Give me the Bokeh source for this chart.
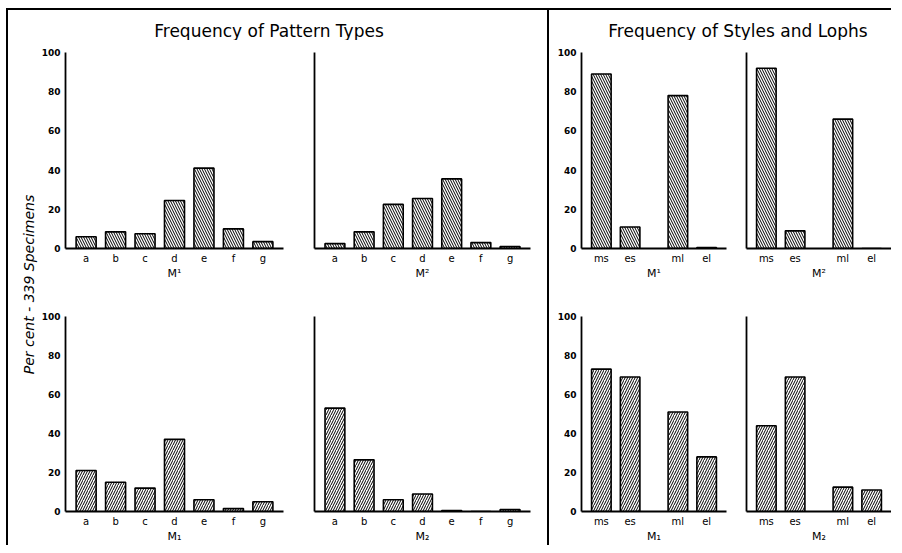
from bokeh.plotting import figure
from bokeh.layouts import row, column, Spacer
from bokeh.models import FactorRange, Range1d, FixedTicker, ColumnDataSource
from bokeh.embed import file_html
from bokeh.resources import INLINE

# ---------------- data ----------------
pattern_types = ["a", "b", "c", "d", "e", "f", "g"]
pattern_upper_M1 = [6, 8.5, 7.5, 24.5, 41, 10, 3.5]      # M¹
pattern_upper_M2 = [2.5, 8.5, 22.5, 25.5, 35.5, 3, 1]     # M²
pattern_lower_M1 = [21, 15, 12, 37, 6, 1.5, 5]            # M₁
pattern_lower_M2 = [53, 26.5, 6, 9, 0.5, 0, 1]            # M₂

style_groups = ["styles", "styles", "lophs", "lophs"]
style_types = ["ms", "es", "ml", "el"]
style_upper_M1 = [89, 11, 78, 0.5]
style_upper_M2 = [92, 9, 66, 0]
style_lower_M1 = [73, 69, 51, 28]
style_lower_M2 = [44, 69, 12.5, 11]

y_ticks = [0, 20, 40, 60, 80, 100]

title_left = "Frequency of Pattern Types"
title_right = "Frequency of Styles and Lophs"
y_title = "Per cent - 339 Specimens"

FONT = "DejaVu Sans"


def panel(factors, values, xlabel, frame_w, frame_h, mbl, mbr, mbt, mbb,
          show_labels, hatch, pad, nested=False):
    xr = FactorRange(factors=factors, range_padding=pad, range_padding_units="percent")
    if nested:
        xr.group_padding = 0.66
    p = figure(x_range=xr, y_range=Range1d(0, 100),
               frame_width=frame_w, frame_height=frame_h,
               min_border_left=mbl, min_border_right=mbr,
               min_border_top=mbt, min_border_bottom=mbb,
               output_backend="svg", toolbar_location=None)
    src = ColumnDataSource(dict(x=factors, top=values))
    p.vbar(x="x", top="top", width=0.68, source=src,
           fill_color="white", line_color="black", line_width=1.6,
           hatch_pattern=hatch, hatch_color="black", hatch_scale=5, hatch_weight=1.0)
    p.grid.visible = False
    p.outline_line_color = None
    for ax in (p.xaxis[0], p.yaxis[0]):
        ax.axis_line_width = 1.8
        ax.major_tick_line_color = None
        ax.minor_tick_line_color = None
        ax.major_tick_out = 0
        ax.major_tick_in = 0
    if show_labels:
        p.yaxis.ticker = FixedTicker(ticks=y_ticks)
        p.yaxis.major_label_standoff = 5
        p.yaxis.major_label_text_font = FONT
        p.yaxis.major_label_text_font_size = "9px"
        p.yaxis.major_label_text_font_style = "bold"
        p.yaxis.major_label_text_color = "black"
    else:
        p.yaxis.ticker = FixedTicker(ticks=[])
        p.yaxis.major_label_standoff = 0
    p.xaxis.major_label_text_font = FONT
    p.xaxis.major_label_text_font_size = "10px"
    p.xaxis.major_label_text_color = "black"
    p.xaxis.major_label_standoff = 4
    p.xaxis.axis_label = xlabel
    p.xaxis.axis_label_text_font = FONT
    p.xaxis.axis_label_text_font_size = "11px"
    p.xaxis.axis_label_text_font_style = "normal"
    p.xaxis.axis_label_text_color = "black"
    p.xaxis.axis_label_standoff = 0
    if nested:
        p.xaxis.group_text_font_size = "1px"
        p.xaxis.group_text_color = None
        p.xaxis.separator_line_color = None
    return p


def title_fig(text, w, h, mbl, mbr):
    p = figure(width=w, height=h, min_border_left=mbl, min_border_right=mbr,
               min_border_top=0, min_border_bottom=0,
               x_axis_location=None, y_axis_location=None,
               output_backend="svg", toolbar_location=None)
    p.title.text = text
    p.title.align = "center"
    p.title.text_font = FONT
    p.title.text_font_size = "17px"
    p.title.text_font_style = "normal"
    p.title.text_color = "black"
    p.title.standoff = 0
    p.outline_line_color = None
    p.grid.visible = False
    return p


style_factors = list(zip(style_groups, style_types))
PAD7 = 0.4 / 7
PADS = 0.38 / 4.66

# left group
p_tl = panel(pattern_types, pattern_upper_M1, "M¹", 218, 196, 22, 18, 12, 42, True, "\\", PAD7)
p_tm = panel(pattern_types, pattern_upper_M2, "M²", 216, 196, 13, 17, 12, 42, False, "\\", PAD7)
p_bl = panel(pattern_types, pattern_lower_M1, "M₁", 218, 195, 22, 18, 26, 32, True, "/", PAD7)
p_bm = panel(pattern_types, pattern_lower_M2, "M₂", 216, 195, 13, 17, 26, 32, False, "/", PAD7)

# right group
p_tr = panel(style_factors, style_upper_M1, "M¹", 145, 196, 32, 7, 12, 42, True, "\\", PADS, True)
p_tf = panel(style_factors, style_upper_M2, "M²", 145, 196, 13, 0, 12, 42, False, "\\", PADS, True)
p_br = panel(style_factors, style_lower_M1, "M₁", 145, 195, 32, 7, 26, 32, True, "/", PADS, True)
p_bf = panel(style_factors, style_lower_M2, "M₂", 145, 195, 13, 0, 26, 32, False, "/", PADS, True)

t_left = title_fig(title_left, 504, 22, 0, 43)
t_right = title_fig(title_right, 342, 22, 35, 0)

ylab = figure(width=20, height=533, title=y_title, title_location="left",
              min_border_left=0, min_border_right=0, min_border_top=15, min_border_bottom=0,
              x_axis_location=None, y_axis_location=None,
              output_backend="svg", toolbar_location=None)
ylab.title.align = "center"
ylab.title.text_font = FONT
ylab.title.text_font_size = "14px"
ylab.title.text_font_style = "italic"
ylab.title.text_color = "black"
ylab.title.standoff = 0
ylab.outline_line_color = None
ylab.grid.visible = False

left_group = column(Spacer(height=8), t_left, row(p_tl, p_tm), row(p_bl, p_bm))
right_group = column(Spacer(height=8), t_right, row(p_tr, p_tf), row(p_br, p_bf),
                     styles={"border-left": "2px solid black"})
root = row(Spacer(width=10), ylab, left_group, right_group,
           styles={"border-top": "2px solid black", "border-left": "2px solid black"})
page = column(Spacer(height=8), row(Spacer(width=6), root))

open("out.html", "w").write(file_html(page, INLINE))
